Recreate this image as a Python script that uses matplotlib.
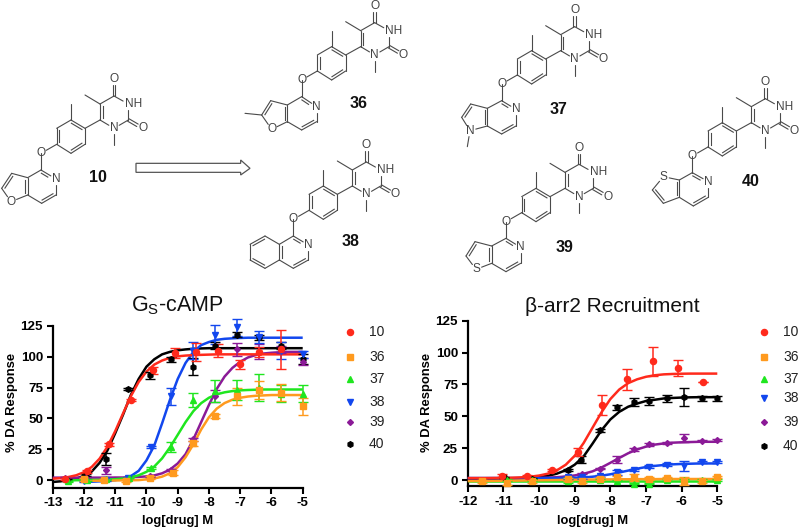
import numpy as np
import matplotlib
matplotlib.use("Agg")
import matplotlib.pyplot as plt
from matplotlib.patches import Polygon

plt.rcParams['font.family'] = ['Liberation Sans', 'DejaVu Sans']
plt.rcParams['mathtext.fontset'] = 'custom'
plt.rcParams['mathtext.rm'] = 'Liberation Sans'
plt.rcParams['axes.unicode_minus'] = False

compounds = ['10', '36', '37', '38', '39', '40']
colors = {'10': '#ff2a1c', '36': '#ff9a1e', '37': '#1fe61f', '38': '#1247ee', '39': '#8b1a97', '40': '#000000'}
markers = {'10': 'o', '36': 's', '37': '^', '38': 'v', '39': 'D', '40': 'h'}
sizes = {'10': 4.4, '36': 4.2, '37': 4.2, '38': 4.2, '39': 3.0, '40': 4.0}
draw_order = ['40', '39', '38', '37', '36', '10']

# ---------- Gs-cAMP: fitted curves, x grid every 0.25 from the given start ----------
gs_start = {'10': -13, '36': -12, '37': -12.5, '38': -12, '39': -13, '40': -13}
gs_curve_10 = [1.1, 1.6, 2.5, 3.9, 6.4, 10.7, 17.4, 27, 39.7, 54, 68, 79.6, 88, 93.7, 97, 99.2, 100.4, 101, 101.4, 101.6, 101.8, 102, 102, 102, 102, 102, 102, 102, 102, 102, 102, 102, 102]
gs_curve_36 = [-.5, -.5, -.5, -.4, -.3, -.2, -.1, 0, .6, 1.3, 2.8, 5.5, 10.5, 18.5, 29, 41, 51, 58, 62.5, 65.2, 66.8, 67.8, 68.4, 68.7, 69, 69, 69, 69, 69]
gs_curve_37 = [-.3, -.1, 0, .1, .2, .4, .7, 1.3, 2.3, 3.9, 6.7, 11, 17.6, 26.5, 36.7, 47, 55.9, 62.4, 66.8, 69.6, 71.2, 72.2, 72.8, 73.1, 73.3, 73.5, 73.5, 73.5, 73.5, 73.5, 73.5]
gs_curve_38 = [-1.5, -1.3, -1, -.6, 0, 1, 3.2, 7.5, 16, 28, 46, 65, 82, 95, 104, 109.5, 112, 113.8, 114.6, 115, 115.3, 115.5, 115.5, 115.5, 115.5, 115.5, 115.5, 115.5, 115.5]
gs_curve_39 = [2, 2, 2, 2, 2, 2, 2, 2, 2.1, 2.1, 2.3, 2.6, 3, 3.8, 5.5, 8.5, 13.5, 21, 33, 47, 61, 74, 84, 91, 96, 99.5, 101.5, 102.7, 103.3, 103.7, 104, 104, 104]
gs_curve_40 = [-1.5, -1, 0, 1.2, 3.5, 7, 14, 24, 38, 53, 69, 82, 92, 98, 102, 104, 105.3, 106, 106.5, 106.8, 107, 107, 107, 107, 107, 107, 107, 107, 107, 107, 107, 107, 107]

# ---------- Gs-cAMP: points ----------
gs_x_10 = [-12.6, -11.9, -11.2, -10.5, -9.8, -9.1, -8.4, -7.7, -7.0, -6.4, -5.7]
gs_y_10 = [1, 7, 29, 65, 89, 103, 104, 105, 94, 104, 106]
gs_e_10 = [1, 1, 1, 1, 3, 4, 7, 5, 3.5, 4, 16]
gs_x_36 = [-12, -11.35, -10.65, -9.9, -9.15, -8.5, -7.8, -7.1, -6.4, -5.7, -5]
gs_y_36 = [.5, 0, -.5, 2, 6, 30, 52, 68, 73, 71, 60]
gs_e_36 = [1, 1, 1, 1, 2, 2, 2, 7, 7, 7, 7]
gs_x_37 = [-12.5, -11.9, -11.3, -10.55, -9.85, -9.2, -8.5, -7.8, -7.1, -6.4, -5.7, -5]
gs_y_37 = [-1, 0, .5, 2, 10, 27, 65, 72, 73, 75, 70, 70]
gs_e_37 = [.5, .5, .5, .5, 1, 4, 6, 9, 8, 11, 7, 7]
gs_x_38 = [-12, -11.3, -10.6, -9.85, -9.2, -8.5, -7.8, -7.1, -6.4, -5.7, -5]
gs_y_38 = [-1, 0, 2, 27, 68, 105, 118, 124, 116, 105, 102]
gs_e_38 = [.5, .5, .5, 1, 7, 7, 8, 7, 5, 7, 3]
gs_x_39 = [-12.6, -11.95, -11.3, -10.6, -9.9, -9.2, -8.5, -7.8, -7.1, -6.4, -5.7, -5]
gs_y_39 = [2, 2, 8, 2, 3, 8, 33, 68, 106, 104, 106, 96]
gs_e_39 = [.5, .5, 3, .5, .5, 1, 1, 5, 5, 6, 3, 3]
gs_x_40 = [-12.55, -11.95, -11.3, -10.6, -9.9, -9.2, -8.5, -7.8, -7.1, -6.4, -5.7, -5]
gs_y_40 = [0, 4, 17, 74, 85, 98, 92, 109, 118, 116, 109, 98]
gs_e_40 = [.5, 1, 5, 1, 3, 2, 7, 3, 2, 2, 3, 4]

# ---------- beta-arr2: fitted curves, x grid every 0.25 from -12 ----------
ba_curve_10 = [1.5, 1.5, 1.5, 1.6, 1.6, 1.8, 2.1, 2.6, 3.5, 5, 7.6, 12, 19, 29, 41, 53, 63.5, 71, 76, 79, 81, 82.2, 82.9, 83.2, 83.4, 83.5, 83.5, 83.5, 83.5]
ba_curve_36 = [-.8, -.8, -.7, -.7, -.6, -.5, -.4, -.3, -.2, -.1, 0, .1, .2, .3, .4, .5, .5, .6, .6, .7, .7, .7, .8, .8, .8, .8, .8, .8, .8]
ba_curve_37 = [-.5, -.5, -.5, -.5, -.5, -.5, -.5, -.5, -.5, -.5, -.5, -.5, -.5, -.5, -.5, -.5, -.5, -.5, -.5, -.5, -.5, -.5, -.5, -.5, -.5, -.5, -.5, -.5, -.5]
ba_curve_38 = [1.5, 1.5, 1.5, 1.5, 1.5, 1.5, 1.5, 1.5, 1.5, 1.5, 1.5, 1.6, 1.7, 2, 2.6, 3.4, 4.5, 5.9, 7.4, 8.9, 10.2, 11.1, 11.8, 12.3, 12.6, 12.8, 13, 13, 13]
ba_curve_39 = [1.5, 1.5, 1.5, 1.5, 1.5, 1.5, 1.5, 1.6, 1.7, 1.9, 2.2, 2.8, 3.6, 4.9, 6.8, 9.8, 13.5, 17.3, 21, 24, 26.2, 27.8, 28.7, 29.3, 29.6, 29.8, 30, 30, 30]
ba_curve_40 = [1, 1, 1, 1, 1.1, 1.2, 1.4, 1.8, 2.4, 3.3, 5, 7.7, 12, 18.5, 28.5, 39, 47.5, 53.5, 57.5, 60, 62, 63, 64, 64.4, 64.7, 64.9, 65, 65, 65]

# ---------- beta-arr2: points ----------
ba_x_10 = [-11.03, -10.35, -9.63, -8.92, -8.24, -7.52, -6.8, -6.1, -5.4]
ba_y_10 = [3.5, 3, 8, 22, 59, 79, 93, 88, 77]
ba_e_10 = [1, 1, 1, 3, 8, 8, 11, 6, 0]
ba_x_36 = [-11.6, -10.9, -10.2, -9.2, -8.8, -8.3, -7.82, -7.35, -6.92, -6.4, -5.92, -5.44, -5]
ba_y_36 = [-1, -2, -1, .5, -1, 1, 2, 2, 1, 1.5, -1, -1, 2.5]
ba_e_36 = [1, 2, 1, 1, 1, 1, 1, 3, 1, 1, 3, 1, 1]
ba_x_37 = [-10.9, -10.2, -9.2, -8.3, -7.82, -7.35, -6.92, -6.4, -5.92, -5.44, -5]
ba_y_37 = [0, 0, -.5, 0, -.5, -3, -3, 0, 0, 0, 0]
ba_e_37 = [.5, .5, 2, .5, .5, .5, .5, .5, .5, .5, .5]
ba_x_38 = [-9.2, -8.8, -8.3, -7.82, -7.35, -6.92, -6.4, -5.92, -5.44, -5]
ba_y_38 = [2, 2, 3, 6, 8, 10.5, 12, 11, 14, 14]
ba_e_38 = [1, 1, 1, 2, 1, 1, 1, 4, 1, 1]
ba_x_39 = [-8.8, -8.3, -7.82, -7.35, -6.92, -6.4, -5.92, -5.44, -5]
ba_y_39 = [5, 9, 16, 24, 28, 29, 33, 31, 31.5]
ba_e_39 = [.5, .5, 3, 1, 1, 1, 3, .5, .5]
ba_x_40 = [-10.98, -10.2, -9.2, -8.82, -8.3, -7.82, -7.35, -6.92, -6.4, -5.92, -5.44, -5]
ba_y_40 = [2, 1, 8, 16, 39, 57, 61, 62, 64, 65, 64, 64]
ba_e_40 = [.5, .5, 1, 3, 1, 2, 3, 3, 3, 7, 2, 2]

gs_curves = {'10': gs_curve_10, '36': gs_curve_36, '37': gs_curve_37, '38': gs_curve_38, '39': gs_curve_39, '40': gs_curve_40}
gs_pts = {'10': (gs_x_10, gs_y_10, gs_e_10), '36': (gs_x_36, gs_y_36, gs_e_36), '37': (gs_x_37, gs_y_37, gs_e_37),
          '38': (gs_x_38, gs_y_38, gs_e_38), '39': (gs_x_39, gs_y_39, gs_e_39), '40': (gs_x_40, gs_y_40, gs_e_40)}
ba_curves = {'10': ba_curve_10, '36': ba_curve_36, '37': ba_curve_37, '38': ba_curve_38, '39': ba_curve_39, '40': ba_curve_40}
ba_pts = {'10': (ba_x_10, ba_y_10, ba_e_10), '36': (ba_x_36, ba_y_36, ba_e_36), '37': (ba_x_37, ba_y_37, ba_e_37),
          '38': (ba_x_38, ba_y_38, ba_e_38), '39': (ba_x_39, ba_y_39, ba_e_39), '40': (ba_x_40, ba_y_40, ba_e_40)}

W, H = 800, 530
fig = plt.figure(figsize=(8, 5.3), dpi=100)
ov = fig.add_axes([0, 0, 1, 1])
ov.set_xlim(0, W); ov.set_ylim(H, 0); ov.axis('off')


def panel(l, r, t, b, xlim, ylim, xticks, curves, starts, pts, xlab_y, ylab_x):
    ax = fig.add_axes([l / W, 1 - b / H, (r - l) / W, (b - t) / H])
    ax.patch.set_alpha(0)
    for c in draw_order:
        x = starts.get(c, xlim[0]) + 0.25 * np.arange(len(curves[c]))
        ax.plot(x, curves[c], color=colors[c], lw=1.8, zorder=3, clip_on=False, solid_capstyle='butt')
        px, py, pe = pts[c]
        ax.errorbar(px, py, yerr=pe, fmt=markers[c], color=colors[c], ms=sizes[c], mew=1,
                    elinewidth=1.1, capsize=3.6, zorder=4, clip_on=False)
    ax.set_xlim(*xlim); ax.set_ylim(*ylim)
    ax.set_xticks(xticks); ax.set_yticks([0, 25, 50, 75, 100, 125])
    for s in ('top', 'right'):
        ax.spines[s].set_visible(False)
    for s in ('left', 'bottom'):
        ax.spines[s].set_linewidth(1.6)
    ax.tick_params(width=1.5, length=4.5, pad=2.5, labelsize=9.6)
    for lab in ax.get_xticklabels() + ax.get_yticklabels():
        lab.set_fontweight('bold')
    ax.set_xlabel('log[drug] M', fontsize=9.4, fontweight='bold', va='center')
    ax.xaxis.set_label_coords(0.5, -(xlab_y - b) / (b - t))
    ax.set_ylabel('% DA Response', fontsize=9.4, fontweight='bold', va='center')
    ax.yaxis.set_label_coords((ylab_x - l) / (r - l), (b - 402) / (b - t))
    return ax


panel(52.7, 302.7, 326, 487.5, (-13, -5), (-6, 125), list(range(-13, -4)), gs_curves, gs_start, gs_pts, 521, 12)
panel(467.7, 717.3, 320.7, 486.4, (-12, -5), (-5, 125), list(range(-12, -4)), ba_curves, {}, ba_pts, 521, 427)

ov.text(177, 306, r'G$_{\mathrm{S}}$-cAMP', fontsize=15.5, ha='center', va='center', color='#111111')
ov.text(612, 307, 'β-arr2 Recruitment', fontsize=15, ha='center', va='center', color='#111111')

legend_gs_y = [332, 357, 379, 402, 422, 444]
legend_ba_y = [332, 357, 379, 398, 422, 446]
for c, y1, y2 in zip(compounds, legend_gs_y, legend_ba_y):
    ov.plot([350], [y1], markers[c], color=colors[c], ms=sizes[c], mew=1)
    ov.text(369, y1, c, fontsize=10, va='center', color='#222222')
    ov.plot([764], [y2], markers[c], color=colors[c], ms=sizes[c], mew=1)
    ov.text(783, y2, c, fontsize=10, va='center', color='#222222')

# ---------- chemical structures (sketch coordinates, 3x reference pixels) ----------
CORE = {'pa': (170, 433), 'pb': (213, 460), 'pc': (255, 433), 'pd': (255, 385), 'pe': (213, 360), 'pf': (170, 385),
        'me': (213, 312), 'u6': (300, 360), 'u5': (300, 312), 'u4': (342, 288), 'n3': (385, 312), 'u2': (385, 360),
        'n1': (342, 385), 'o4': (342, 238), 'o2': (428, 385), 'm5': (255, 285), 'mn': (342, 435), 'ol': (123, 460)}
CORE_LABELS = {'n3': 'NH', 'n1': 'N', 'o4': 'O', 'o2': 'O', 'ol': 'O'}
CORE_BONDS = [('pa', 'pb', 1), ('pb', 'pc', 2), ('pc', 'pd', 1), ('pd', 'pe', 2), ('pe', 'pf', 1), ('pf', 'pa', 2),
              ('pe', 'me', 1), ('pd', 'u6', 1), ('u6', 'u5', 2), ('u5', 'u4', 1), ('u4', 'n3', 1), ('n3', 'u2', 1),
              ('u2', 'n1', 1), ('n1', 'u6', 1), ('u4', 'o4', 3), ('u2', 'o2', 3), ('u5', 'm5', 1), ('n1', 'mn', 1),
              ('pa', 'ol', 1)]
CORE_RINGS = [['pa', 'pb', 'pc', 'pd', 'pe', 'pf'], ['u6', 'u5', 'u4', 'n3', 'u2', 'n1']]


def five_six(o, c4, n, c6, c7, c7a, c3a, c3, c2, x1, lab, extra=None):
    atoms = {'ol': o, 'c4': c4, 'n': n, 'c6': c6, 'c7': c7, 'c7a': c7a, 'c3a': c3a, 'c3': c3, 'c2': c2, 'x': x1}
    labels = {'n': 'N', 'x': lab}
    bonds = [('ol', 'c4', 1), ('c4', 'n', 2), ('n', 'c6', 1), ('c6', 'c7', 2), ('c7', 'c7a', 1), ('c7a', 'c3a', 2),
             ('c3a', 'c4', 1), ('c3a', 'c3', 1), ('c3', 'c2', 2), ('c2', 'x', 1), ('x', 'c7a', 1)]
    if extra:
        atoms['ex'] = extra[0]
        bonds.append((extra[1], 'ex', 1))
    rings = [['c4', 'n', 'c6', 'c7', 'c7a', 'c3a'], ['c3a', 'c3', 'c2', 'x', 'c7a']]
    return atoms, labels, bonds, rings


head_10 = five_six((123, 460), (123, 510), (168, 537), (168, 585), (125, 610), (83, 585), (83, 533), (35, 520), (5, 565), (33, 605), 'O')
head_36 = five_six((905, 240), (905, 290), (950, 320), (950, 365), (905, 390), (862, 365), (862, 315), (812, 302), (785, 345), (815, 388), 'O', ((735, 340), 'c2'))
head_37 = five_six((1505, 252), (1505, 302), (1548, 328), (1548, 378), (1505, 402), (1462, 378), (1462, 325), (1412, 312), (1385, 352), (1410, 392), 'N', ((1402, 440), 'x'))
head_39 = five_six((1518, 665), (1518, 715), (1562, 742), (1562, 790), (1518, 815), (1475, 790), (1475, 738), (1425, 725), (1398, 768), (1428, 808), 'S')
a40 = {'ol': (2077, 468), 'c7': (2077, 518), 'n': (2125, 545), 'c5': (2125, 592), 'c4': (2080, 618), 'c3a': (2038, 592),
       'c7a': (2038, 540), 's': (1990, 530), 'c2': (1957, 570), 'c3': (1990, 610)}
head_40 = (a40, {'n': 'N', 's': 'S'},
           [('ol', 'c7', 1), ('c7', 'n', 2), ('n', 'c5', 1), ('c5', 'c4', 2), ('c4', 'c3a', 1), ('c3a', 'c7a', 2), ('c7a', 'c7', 1),
            ('c7a', 's', 1), ('s', 'c2', 1), ('c2', 'c3', 2), ('c3', 'c3a', 1)],
           [['c7', 'n', 'c5', 'c4', 'c3a', 'c7a'], ['c3a', 'c7a', 's', 'c2', 'c3']])
a38 = {'ol': (880, 658), 'c1': (880, 708), 'n': (925, 735), 'c3': (925, 780), 'c4': (880, 805), 'c4a': (838, 780), 'c8a': (838, 733),
       'c8': (795, 708), 'c7': (750, 733), 'c6': (750, 780), 'c5': (795, 805)}
head_38 = (a38, {'n': 'N'},
           [('ol', 'c1', 1), ('c1', 'n', 2), ('n', 'c3', 1), ('c3', 'c4', 2), ('c4', 'c4a', 1), ('c4a', 'c8a', 2), ('c8a', 'c1', 1),
            ('c8a', 'c8', 1), ('c8', 'c7', 2), ('c7', 'c6', 1), ('c6', 'c5', 2), ('c5', 'c4a', 1)],
           [['c1', 'n', 'c3', 'c4', 'c4a', 'c8a'], ['c8a', 'c8', 'c7', 'c6', 'c5', 'c4a']])

LINE = '#4a4a4a'


def draw_bonds(atoms, labels, bonds, rings, dx=0, dy=0):
    P = {k: (np.array(v, float) + (dx, dy)) / 3 for k, v in atoms.items()}
    centres = [np.mean([P[a] for a in r], axis=0) for r in rings]
    for a, b, order in bonds:
        pa, pb = P[a], P[b]
        d = pb - pa
        L = np.hypot(*d)
        u = d / L
        n = np.array([-u[1], u[0]])
        s = pa + u * (6 if a in labels else 0)
        e = pb - u * (6 if b in labels else 0)
        if order == 3:
            for k in (-1.4, 1.4):
                ov.plot(*zip(s + n * k, e + n * k), color=LINE, lw=0.8, solid_capstyle='round')
            continue
        ov.plot(*zip(s, e), color=LINE, lw=0.8, solid_capstyle='round')
        if order == 2:
            mid = (pa + pb) / 2
            c = min(centres, key=lambda q: np.hypot(*(q - mid)))
            side = 1 if np.dot(c - mid, n) > 0 else -1
            ov.plot(*zip(s + n * side * 2.6 + u * 2, e + n * side * 2.6 - u * 2), color=LINE, lw=0.8)
    for k, t in labels.items():
        ha = 'left' if t == 'NH' else 'center'
        x = P[k][0] - (3.5 if t == 'NH' else 0)
        ov.text(x, P[k][1], t, fontsize=8.6, ha=ha, va='center', color='#444444')


for head in (head_10, head_36, head_37, head_38, head_39, head_40):
    atoms, labels, bonds, rings = head
    ox, oy = atoms['ol']
    draw_bonds(atoms, labels, bonds, rings)
    draw_bonds(CORE, CORE_LABELS, CORE_BONDS, CORE_RINGS, ox - 123, oy - 460)

compound_labels = {'10': (98, 178), '36': (359, 104), '38': (351, 242), '37': (559, 109), '39': (565, 247), '40': (751, 181)}
for c, (x, y) in compound_labels.items():
    ov.text(x, y, c, fontsize=11.5, fontweight='bold', ha='center', va='center', color='#111111')

arrow = np.array([(408, 490), (722, 490), (722, 480), (750, 505), (722, 525), (722, 517), (408, 517)]) / 3
ov.add_patch(Polygon(arrow, closed=True, fc='white', ec='#555555', lw=0.9))

fig.savefig('out.png', dpi=100)
